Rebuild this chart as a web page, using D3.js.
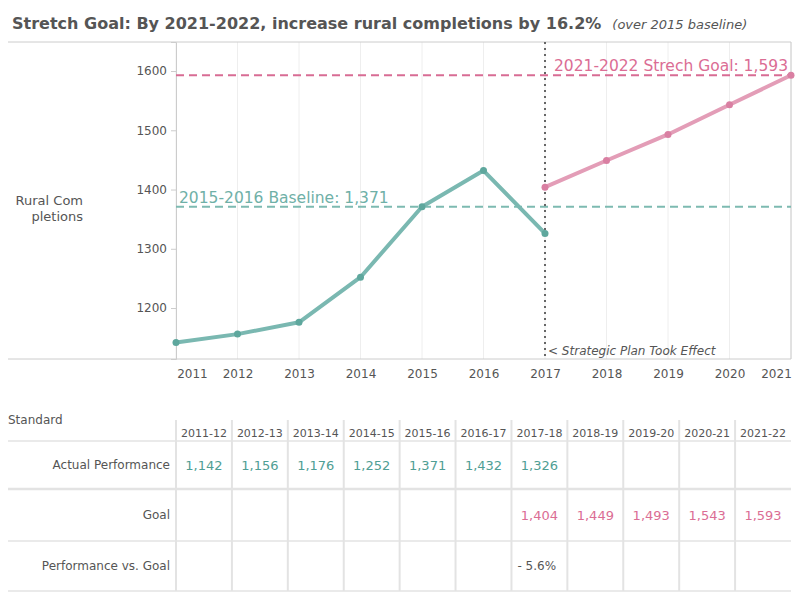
<!DOCTYPE html>
<html>
<head>
<meta charset="utf-8">
<script src="https://cdn.jsdelivr.net/npm/d3@7"></script>
<style>
  body { margin: 0; background: #fff; }
  svg { font-family: "DejaVu Sans", Verdana, sans-serif; }
</style>
</head>
<body>
<div id="chart"></div>
<script>
// data
var years = [2011, 2012, 2013, 2014, 2015, 2016, 2017, 2018, 2019, 2020, 2021];
var actualYears = [2011, 2012, 2013, 2014, 2015, 2016, 2017];
var actualValues = [1142, 1156, 1176, 1252, 1371, 1432, 1326];
var goalYears = [2017, 2018, 2019, 2020, 2021];
var goalValues = [1404, 1449, 1493, 1543, 1593];
var yTicks = [1200, 1300, 1400, 1500, 1600];
var schoolYears = ["2011-12", "2012-13", "2013-14", "2014-15", "2015-16", "2016-17",
                   "2017-18", "2018-19", "2019-20", "2020-21", "2021-22"];
var perfVsGoal = ["", "", "", "", "", "", "- 5.6%", "", "", "", ""];
var baselineValue = 1371;
var stretchGoal = 1593;
var planYear = 2017;

var width = 799, height = 599;
var pLeft = 176, pRight = 791, pTop = 42, pBottom = 359;

var teal = "#7ab8b1", tealDark = "#5ea79d", tealText = "#4f9e94";
var pink = "#e39db7", pinkDark = "#d97fa2", pinkText = "#db6d94";
var grey = "#555";

var svg = d3.select("#chart").append("svg")
  .attr("width", width)
  .attr("height", height);

var x = d3.scaleLinear().domain([2011, 2021]).range([pLeft, pRight]);
var y = d3.scaleLinear().domain([1114, 1649]).range([pBottom, pTop]);

// title
var title = svg.append("text")
  .attr("x", 12).attr("y", 29)
  .style("font-size", "16px").style("font-weight", "bold").style("fill", "#555");
title.append("tspan").text("Stretch Goal: By 2021-2022, increase rural completions by 16.2%");
title.append("tspan").attr("dx", 11)
  .style("font-size", "13px").style("font-weight", "normal").style("font-style", "italic")
  .text("(over 2015 baseline)");

// vertical gridlines
svg.append("g").selectAll("line")
  .data(years)
  .enter().append("line")
  .attr("x1", d => x(d)).attr("x2", d => x(d))
  .attr("y1", pTop).attr("y2", pBottom)
  .style("stroke", "#eee");

// frame
svg.append("line").attr("x1", 8).attr("x2", pRight).attr("y1", pTop).attr("y2", pTop)
  .style("stroke", "#ccc");
svg.append("line").attr("x1", 8).attr("x2", pRight).attr("y1", pBottom).attr("y2", pBottom)
  .style("stroke", "#ccc");
svg.append("line").attr("x1", pRight).attr("x2", pRight).attr("y1", pTop).attr("y2", pBottom)
  .style("stroke", "#ccc");

// y axis
var yAxis = svg.append("g")
  .attr("transform", "translate(" + pLeft + ",0)")
  .call(d3.axisLeft(y).tickValues(yTicks).tickFormat(d3.format("d")).tickSize(5).tickPadding(4));
yAxis.select(".domain").style("stroke", "#ccc");
yAxis.selectAll(".tick line").style("stroke", "#ccc");
yAxis.selectAll(".tick text").style("font-size", "12px").style("fill", grey)
  .style("font-family", "DejaVu Sans, Verdana, sans-serif");

// x axis
var xAxis = svg.append("g")
  .attr("transform", "translate(0," + pBottom + ")")
  .call(d3.axisBottom(x).tickValues(years).tickFormat(d3.format("d")).tickSize(0).tickPadding(10));
xAxis.select(".domain").remove();
xAxis.selectAll(".tick text").style("font-size", "12px").style("fill", grey)
  .style("font-family", "DejaVu Sans, Verdana, sans-serif")
  .attr("dx", d => d === 2011 ? 16 : (d === 2021 ? -15 : 0));

// y axis title
svg.append("text").attr("x", 83).attr("y", 205).attr("text-anchor", "end")
  .style("font-size", "13px").style("fill", grey).text("Rural Com");
svg.append("text").attr("x", 83).attr("y", 221).attr("text-anchor", "end")
  .style("font-size", "13px").style("fill", grey).text("pletions");

// reference lines
svg.append("line")
  .attr("x1", pLeft).attr("x2", pRight)
  .attr("y1", y(stretchGoal)).attr("y2", y(stretchGoal))
  .style("stroke", "#d86c94").style("stroke-width", 2).style("stroke-dasharray", "8,5");
svg.append("line")
  .attr("x1", pLeft).attr("x2", pRight)
  .attr("y1", y(baselineValue)).attr("y2", y(baselineValue))
  .style("stroke", "#7dbab1").style("stroke-width", 2).style("stroke-dasharray", "8,5");
svg.append("line")
  .attr("x1", x(planYear)).attr("x2", x(planYear))
  .attr("y1", pTop).attr("y2", pBottom)
  .style("stroke", "#666").style("stroke-width", 2).style("stroke-dasharray", "2,4");

svg.append("text").attr("x", pRight - 3).attr("y", y(stretchGoal) - 4)
  .attr("text-anchor", "end")
  .style("font-size", "15.5px").style("fill", pinkText)
  .text("2021-2022 Strech Goal: " + d3.format(",")(stretchGoal));
svg.append("text").attr("x", pLeft + 3).attr("y", y(baselineValue) - 4)
  .style("font-size", "15.5px").style("fill", "#6fb0a7")
  .text("2015-2016 Baseline: " + d3.format(",")(baselineValue));
svg.append("text").attr("x", x(planYear) + 3).attr("y", pBottom - 4)
  .style("font-size", "12px").style("font-style", "italic").style("fill", grey)
  .text("< Strategic Plan Took Effect");

// lines
var line = d3.line().x(d => x(d[0])).y(d => y(d[1]));
var actual = actualYears.map((d, i) => [d, actualValues[i]]);
var goal = goalYears.map((d, i) => [d, goalValues[i]]);

svg.append("path").datum(actual).attr("d", line)
  .style("fill", "none").style("stroke", teal).style("stroke-width", 4)
  .style("stroke-linejoin", "round");
svg.append("g").selectAll("circle").data(actual).enter().append("circle")
  .attr("cx", d => x(d[0])).attr("cy", d => y(d[1])).attr("r", 3.5)
  .style("fill", tealDark);

svg.append("path").datum(goal).attr("d", line)
  .style("fill", "none").style("stroke", pink).style("stroke-width", 4)
  .style("stroke-linejoin", "round");
svg.append("g").selectAll("circle").data(goal).enter().append("circle")
  .attr("cx", d => x(d[0])).attr("cy", d => y(d[1])).attr("r", 3.5)
  .style("fill", pinkDark);

// table
var col = d3.scaleBand().domain(schoolYears).range([pLeft, pRight]);
var rowLines = [441, 489, 541, 591];
var rowMid = [465, 515, 566];
var tbl = svg.append("g");

tbl.append("text").attr("x", 8).attr("y", 424)
  .style("font-size", "12px").style("fill", grey).text("Standard");

// header separators
tbl.selectAll(".hsep").data(schoolYears).enter().append("line")
  .attr("x1", d => col(d)).attr("x2", d => col(d))
  .attr("y1", 420).attr("y2", 441)
  .style("stroke", "#e3e3e3").style("stroke-width", 2);
// body separators
tbl.selectAll(".bsep").data(schoolYears).enter().append("line")
  .attr("x1", d => col(d)).attr("x2", d => col(d))
  .attr("y1", 441).attr("y2", 591)
  .style("stroke", "#e3e3e3").style("stroke-width", 2);
tbl.selectAll(".rline").data(rowLines).enter().append("line")
  .attr("x1", 8).attr("x2", pRight)
  .attr("y1", d => d).attr("y2", d => d)
  .style("stroke", "#e3e3e3").style("stroke-width", (d, i) => i === 1 ? 2.5 : 1.5);

tbl.selectAll(".hdr").data(schoolYears).enter().append("text")
  .attr("x", d => col(d) + col.bandwidth() / 2).attr("y", 437)
  .attr("text-anchor", "middle")
  .style("font-size", "11px").style("fill", grey).text(d => d);

var rowLabels = ["Actual Performance", "Goal", "Performance vs. Goal"];
tbl.selectAll(".rl").data(rowLabels).enter().append("text")
  .attr("x", 170).attr("y", (d, i) => rowMid[i] + 4)
  .attr("text-anchor", "end")
  .style("font-size", "12px").style("fill", grey).text(d => d);

var fmt = d3.format(",");
tbl.selectAll(".av").data(actualValues).enter().append("text")
  .attr("x", (d, i) => col(schoolYears[i]) + col.bandwidth() / 2).attr("y", rowMid[0] + 5)
  .attr("text-anchor", "middle")
  .style("font-size", "13px").style("fill", tealText).text(d => fmt(d));
tbl.selectAll(".gv").data(goalValues).enter().append("text")
  .attr("x", (d, i) => col(schoolYears[i + 6]) + col.bandwidth() / 2).attr("y", rowMid[1] + 5)
  .attr("text-anchor", "middle")
  .style("font-size", "13px").style("fill", pinkText).text(d => fmt(d));
tbl.selectAll(".pv").data(perfVsGoal).enter().append("text")
  .attr("x", (d, i) => col(schoolYears[i]) + 6).attr("y", rowMid[2] + 4)
  .style("font-size", "12px").style("fill", grey).text(d => d);
</script>
</body>
</html>
